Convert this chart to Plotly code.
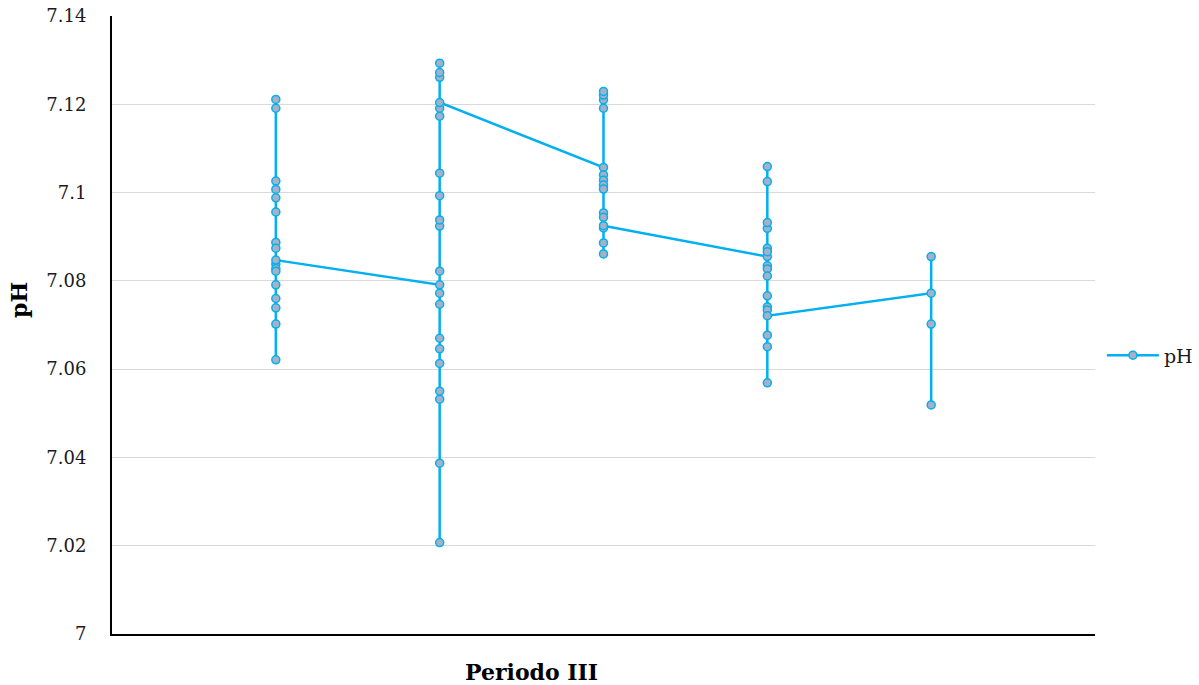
import plotly.graph_objects as go

# Data, in drawing order per period group
ph_g1 = [7.1211, 7.1191, 7.1026, 7.1007, 7.0988, 7.0956, 7.0887, 7.0874, 7.0838,
         7.0828, 7.0822, 7.0791, 7.0760, 7.0739, 7.0702, 7.0621, 7.0847]
ph_g2 = [7.0791, 7.0822, 7.0772, 7.0747, 7.0670, 7.0646, 7.0613, 7.0550, 7.0532,
         7.0387, 7.0207, 7.0924, 7.0938, 7.0993, 7.1044, 7.1173, 7.1191, 7.1261,
         7.1272, 7.1293, 7.1204]
ph_g3 = [7.1057, 7.1040, 7.1028, 7.1017, 7.1008, 7.1191, 7.1210, 7.1221, 7.1229,
         7.0954, 7.0944, 7.0920, 7.0886, 7.0861, 7.0925]
ph_g4 = [7.0855, 7.0874, 7.0866, 7.0919, 7.0932, 7.1025, 7.1059, 7.0834, 7.0827,
         7.0811, 7.0766, 7.0741, 7.0734, 7.0677, 7.0651, 7.0569, 7.0721]
ph_g5 = [7.0772, 7.0855, 7.0702, 7.0519]
groups = [ph_g1, ph_g2, ph_g3, ph_g4, ph_g5]
group_pos = [1, 2, 3, 4, 5]

ytick_vals = [7.0, 7.02, 7.04, 7.06, 7.08, 7.1, 7.12, 7.14]
ytick_text = ["7", "7.02", "7.04", "7.06", "7.08", "7.1", "7.12", "7.14"]

xs, ys = [], []
for pos, g in zip(group_pos, groups):
    xs += [pos] * len(g)
    ys += g

FONT = "DejaVu Serif"
LINE = "#00b0f0"

fig = go.Figure()
fig.add_trace(go.Scatter(
    x=xs, y=ys, mode="lines+markers", name="pH",
    line=dict(color=LINE, width=2.5),
    marker=dict(size=8, color="#a7b0c4", line=dict(color=LINE, width=1.5)),
))

fig.update_layout(
    width=1199, height=685,
    margin=dict(l=112, r=104, t=16, b=51, autoexpand=False),
    paper_bgcolor="white", plot_bgcolor="white",
    font=dict(family=FONT, size=18, color="#1a1a1a"),
    showlegend=True,
    legend=dict(x=1.007, xanchor="left", y=0.451, yanchor="middle",
                font=dict(family=FONT, size=19, color="#1a1a1a"),
                itemwidth=52, bgcolor="rgba(0,0,0,0)"),
    xaxis=dict(range=[0, 6], showticklabels=False, showgrid=False, zeroline=False,
               showline=True, linecolor="black", linewidth=2, ticks="",
               automargin=False),
    yaxis=dict(range=[7.0, 7.14], tickvals=ytick_vals, ticktext=ytick_text,
               showgrid=True, gridcolor="#d9d9d9", gridwidth=1, zeroline=False,
               showline=True, linecolor="black", linewidth=2, ticks="",
               ticklabelstandoff=20, automargin=False,
               tickfont=dict(family=FONT, size=18, color="#1a1a1a")),
    annotations=[
        dict(text="<b>Periodo III</b>", xref="paper", yref="paper",
             x=0.427, y=-0.0615, xanchor="center", yanchor="middle", showarrow=False,
             font=dict(family=FONT, size=22, color="black")),
        dict(text="<b>pH</b>", xref="paper", yref="paper",
             x=-0.094, y=0.54, xanchor="center", yanchor="middle", showarrow=False,
             textangle=-90, font=dict(family=FONT, size=22, color="black")),
    ],
)

fig.write_html("out.html")
